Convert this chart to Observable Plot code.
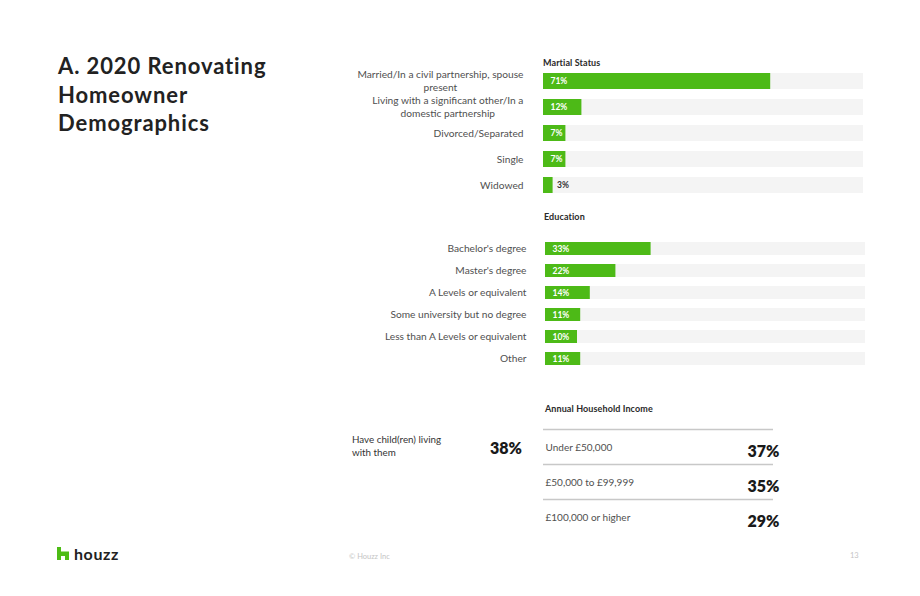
<!DOCTYPE html>
<html>
<head>
<meta charset="utf-8">
<script src="https://cdn.jsdelivr.net/npm/d3@7"></script>
<script src="https://cdn.jsdelivr.net/npm/@observablehq/plot@0.6"></script>
<style>
  html, body { margin: 0; padding: 0; background: #fff; }
  #page { position: relative; width: 920px; height: 596px; overflow: hidden; font-family: Lato, "Open Sans", sans-serif; color: #222; }
  .abs { position: absolute; }
  #title { left: 58px; top: 52px; font-size: 22px; font-weight: 700; line-height: 28.5px; color: #222; letter-spacing: 0.9px; }
  .section { font-size: 9px; font-weight: 700; color: #2a2a2a; letter-spacing: 0.1px; }
  #children-label { left: 352px; top: 433px; font-size: 9.8px; line-height: 13px; color: #333; }
  #children-value { left: 470px; width: 52px; text-align: right; top: 438px; font-size: 16px; font-weight: 800; color: #1a1a1a; }
  #logo { left: 57px; top: 544px; display: flex; align-items: center; gap: 5px; font-size: 16px; font-weight: 700; color: #222; letter-spacing: 0.6px; }
  #copyright { left: 349px; top: 552px; font-size: 7.5px; color: #c4c4c4; }
  #pagenum { left: 850px; top: 551px; font-size: 7.5px; color: #c4c4c4; }
  svg { position: absolute; }
</style>
</head>
<body>
<div id="page">
  <div id="title" class="abs">A. 2020 Renovating<br>Homeowner<br>Demographics</div>
  <div class="abs section" style="left:543px; top:57px;">Martial Status</div>
  <div class="abs section" style="left:544px; top:211px;">Education</div>
  <div class="abs section" style="left:545px; top:403px;">Annual Household Income</div>
  <div id="children-label" class="abs">Have child(ren) living<br>with them</div>
  <div id="children-value" class="abs"></div>
  <div id="logo" class="abs">
    <svg width="12" height="13" viewBox="0 0 12 13" style="position:static">
      <path d="M0 0H4V4.5H12V13H8V9H4V13H0Z" fill="#4dbc15"/>
    </svg>
    <span>houzz</span>
  </div>
  <div id="copyright" class="abs">© Houzz Inc</div>
  <div id="pagenum" class="abs">13</div>
</div>
<script>
// Marital status shares (%)
const maritalCategories = [
  "Married/In a civil partnership, spouse present",
  "Living with a significant other/In a domestic partnership",
  "Divorced/Separated",
  "Single",
  "Widowed"
];
const maritalLabels = [
  "Married/In a civil partnership, spouse\npresent",
  "Living with a significant other/In a\ndomestic partnership",
  "Divorced/Separated",
  "Single",
  "Widowed"
];
const maritalValues = [71, 12, 7, 7, 3];

// Education shares (%)
const educationCategories = [
  "Bachelor's degree",
  "Master's degree",
  "A Levels or equivalent",
  "Some university but no degree",
  "Less than A Levels or equivalent",
  "Other"
];
const educationValues = [33, 22, 14, 11, 10, 11];

// Annual household income shares (%)
const incomeBrackets = ["Under £50,000", "£50,000 to £99,999", "£100,000 or higher"];
const incomeValues = [37, 35, 29];

// Households with children living at home (%)
const childrenShare = 38;

const GREEN = "#4dba17";
const TRACK = "#f4f4f4";
const FONT = "Lato, 'Open Sans', sans-serif";
const LABEL_SIZE = 10.2;
const page = document.getElementById("page");

// width of the longest line of a label, so wrapped labels can be centred
// under their right-aligned first line
const measureCtx = document.createElement("canvas").getContext("2d");
function labelWidth(label) {
  measureCtx.font = `${LABEL_SIZE}px Lato, 'Open Sans', sans-serif`;
  return Math.max(...label.split("\n").map(s => measureCtx.measureText(s).width));
}

function barPanel({categories, labels, values, left, top, width, height, marginLeft, marginRight, paddingInner, labelGap}) {
  const rows = categories.map((c, i) => ({cat: c, label: labels[i], value: values[i]}));
  const single = rows.filter(d => !d.label.includes("\n"));
  const wrapped = rows.filter(d => d.label.includes("\n"));
  const chart = Plot.plot({
    width, height,
    marginLeft, marginRight, marginTop: 0, marginBottom: 0,
    style: {background: "transparent", fontFamily: FONT, overflow: "visible"},
    x: {domain: [0, 100], axis: null},
    y: {domain: categories, paddingInner, paddingOuter: 0, axis: null},
    marks: [
      Plot.barX(rows, {x: () => 100, y: "cat", fill: TRACK}),
      Plot.barX(rows, {x: "value", y: "cat", fill: GREEN}),
      Plot.text(single, {x: 0, y: "cat", text: "label", textAnchor: "end", dx: -labelGap,
        fontSize: LABEL_SIZE, fill: "#505050"}),
      ...wrapped.map(d => Plot.text([d], {x: 0, y: "cat", text: "label", textAnchor: "middle",
        dx: -labelGap - labelWidth(d.label) / 2, dy: -1, fontSize: LABEL_SIZE, fill: "#505050", lineHeight: 1.2})),
      Plot.text(rows.filter(d => d.value >= 5), {x: 0, y: "cat", text: d => d.value + "%", textAnchor: "start", dx: 7,
        fontSize: 8.5, fontWeight: 700, fill: "#fff"}),
      Plot.text(rows.filter(d => d.value < 5), {x: "value", y: "cat", text: d => d.value + "%", textAnchor: "start", dx: 4,
        fontSize: 8.5, fontWeight: 700, fill: "#333"})
    ]
  });
  chart.style.left = left + "px";
  chart.style.top = top + "px";
  page.appendChild(chart);
}

barPanel({
  categories: maritalCategories, labels: maritalLabels, values: maritalValues,
  left: 340, top: 71.5, width: 530, height: 121.5, marginLeft: 203, marginRight: 7,
  paddingInner: 0.39, labelGap: 20
});

barPanel({
  categories: educationCategories, labels: educationCategories, values: educationValues,
  left: 340, top: 242, width: 530, height: 123.5, marginLeft: 205, marginRight: 5,
  paddingInner: 0.39, labelGap: 19
});

// Income brackets: divider rule above each row, label left, share right
const incomeRows = incomeBrackets.map((b, i) => ({bracket: b, value: incomeValues[i]}));
const income = Plot.plot({
  width: 250, height: 126,
  marginLeft: 3, marginRight: 17, marginTop: 21, marginBottom: 0,
  style: {background: "transparent", fontFamily: FONT, overflow: "visible"},
  x: {axis: null},
  y: {type: "point", domain: incomeBrackets, padding: 0.5, axis: null},
  marks: [
    Plot.ruleY(incomeRows, {y: "bracket", dy: -20, stroke: "#c8c8c8", strokeWidth: 1.5}),
    Plot.text(incomeRows, {y: "bracket", text: "bracket", frameAnchor: "left", textAnchor: "start", dx: 2, dy: -1.5,
      fontSize: 10, fill: "#505050"}),
    Plot.text(incomeRows, {y: "bracket", text: d => d.value + "%", frameAnchor: "right", textAnchor: "end", dx: 6, dy: 2.5,
      fontSize: 16, fontWeight: 800, fill: "#1a1a1a"})
  ]
});
income.style.left = "540px";
income.style.top = "410px";
page.appendChild(income);

document.getElementById("children-value").textContent = childrenShare + "%";
</script>
</body>
</html>
